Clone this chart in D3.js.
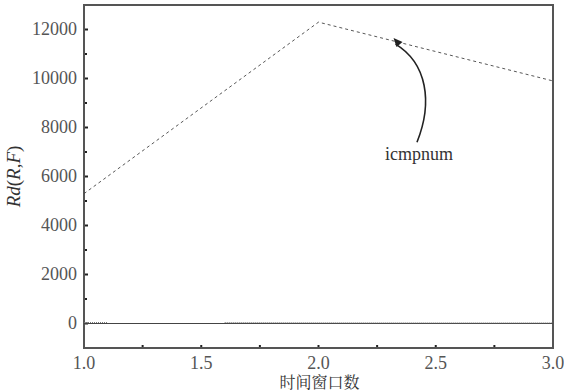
<!DOCTYPE html>
<html>
<head>
<meta charset="UTF-8">
<script src="https://d3js.org/d3.v7.min.js"></script>
</head>
<body style="margin:0">
<script>
    // data
    const windows = [1.0, 2.0, 3.0];
    const icmpnum = [5300, 12300, 9900];
    const baseX = [1.0, 3.0];
    const baseY = [0, 0];
    const dotX = [1.0, 1.1, 1.1, 1.6, 2.0, 2.5, 3.0];
    const dotY = [40, 40, null, 40, 30, 25, 25];
    const xTicks = [1.0, 1.5, 2.0, 2.5, 3.0];
    const yTicks = [0, 2000, 4000, 6000, 8000, 10000, 12000];

    const W = 564, H = 391;
    const margin = {top: 5, right: 11, bottom: 43, left: 84};
    const width = W - margin.left - margin.right,
          height = H - margin.top - margin.bottom;

    const svg = d3.select("body").append("svg")
      .attr("width", W).attr("height", H);
    const g = svg.append("g").attr("transform", `translate(${margin.left},${margin.top})`);

    const x = d3.scaleLinear().domain([1, 3]).range([0, width]);
    const y = d3.scaleLinear().domain([-1000, 13000]).range([height, 0]);

    // tick labels drawn as plain text from the scales
    g.selectAll(".ylab").data(yTicks).join("text")
      .attr("class", "ylab")
      .attr("x", -7).attr("y", d => y(d)).attr("dy", "0.32em")
      .attr("text-anchor", "end")
      .style("font-family", "'Liberation Serif'").style("font-size", "18px")
      .style("fill", "#555")
      .text(d => d);
    g.selectAll(".xlab").data(xTicks).join("text")
      .attr("class", "xlab")
      .attr("x", d => x(d)).attr("y", height + 21)
      .attr("text-anchor", "middle")
      .style("font-family", "'Liberation Serif'").style("font-size", "18px")
      .style("fill", "#555")
      .text(d => d3.format(".1f")(d));

    // ticks, inward
    g.selectAll(".yt").data(yTicks).join("line")
      .attr("x1", 0).attr("x2", 4)
      .attr("y1", d => y(d)).attr("y2", d => y(d))
      .attr("stroke", "#222").attr("stroke-width", 2);
    g.selectAll(".ym").data(d3.range(1000, 13000, 2000)).join("line")
      .attr("x1", 0).attr("x2", 3)
      .attr("y1", d => y(d)).attr("y2", d => y(d))
      .attr("stroke", "#222").attr("stroke-width", 2);
    g.selectAll(".xt").data(xTicks.concat([1.25, 1.75, 2.25, 2.75])).join("line")
      .attr("x1", d => x(d)).attr("x2", d => x(d))
      .attr("y1", height).attr("y2", height - 3)
      .attr("stroke", "#222").attr("stroke-width", 2);

    // frame
    g.append("rect")
      .attr("width", width).attr("height", height)
      .attr("fill", "none").attr("stroke", "#555").attr("stroke-width", 2);

    const line = d3.line()
      .defined(d => d[1] !== null)
      .x(d => x(d[0])).y(d => y(d[1]));

    g.append("path")
      .datum(d3.zip(baseX, baseY))
      .attr("d", line)
      .attr("fill", "none").attr("stroke", "#444").attr("stroke-width", 1);

    g.append("path")
      .datum(d3.zip(dotX, dotY))
      .attr("d", line)
      .attr("fill", "none").attr("stroke", "#777").attr("stroke-width", 1)
      .attr("stroke-dasharray", "1,1");

    g.append("path")
      .datum(d3.zip(windows, icmpnum))
      .attr("d", line)
      .attr("fill", "none").attr("stroke", "#444").attr("stroke-width", 0.9)
      .attr("stroke-dasharray", "3,3");

    // annotation arrow
    const tx = x(2.32), ty = y(11650);
    const sx = x(2.42), sy = y(7400);
    g.append("path")
      .attr("d", `M${sx},${sy} C${sx + 16},${sy - 40} ${sx + 10},${ty + 25} ${tx + 2},${ty + 6}`)
      .attr("fill", "none").attr("stroke", "#222").attr("stroke-width", 1.6);
    g.append("path")
      .attr("d", `M${tx},${ty} L${tx + 9},${ty + 4} L${tx + 3},${ty + 9} Z`)
      .attr("fill", "#222");

    g.append("text")
      .attr("x", sx + 2).attr("y", sy + 18)
      .attr("text-anchor", "middle")
      .style("font-family", "'Liberation Serif'").style("font-size", "18px")
      .style("fill", "#333")
      .text("icmpnum");

    // axis labels
    const yl = svg.append("text")
      .attr("transform", `translate(20,${margin.top + height / 2}) rotate(-90)`)
      .attr("text-anchor", "middle")
      .style("font-family", "'Liberation Serif'").style("font-size", "19px")
      .style("fill", "#333");
    yl.append("tspan").style("font-style", "italic").text("Rd");
    yl.append("tspan").text("(");
    yl.append("tspan").style("font-style", "italic").text("R");
    yl.append("tspan").text(",");
    yl.append("tspan").style("font-style", "italic").text("F");
    yl.append("tspan").text(")");

    svg.append("text")
      .attr("x", margin.left + width / 2 + 1).attr("y", H - 3)
      .attr("text-anchor", "middle")
      .style("font-family", "'Noto Serif CJK SC'").style("font-size", "16px")
      .style("fill", "#333")
      .text("时间窗口数");
</script>
</body>
</html>
